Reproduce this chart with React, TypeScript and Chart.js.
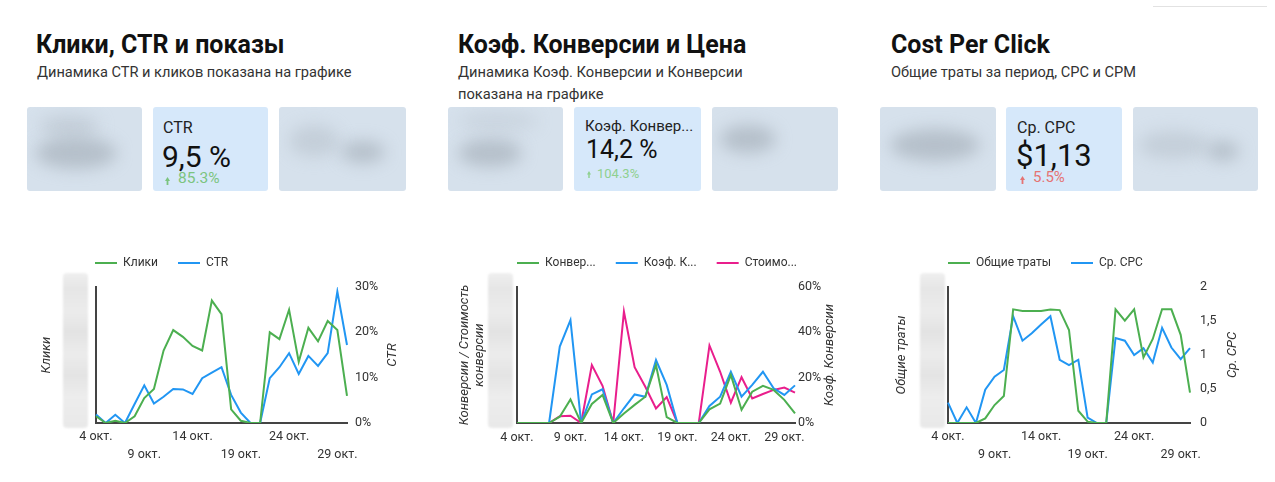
import React, { useEffect, useRef } from 'react';
import { Chart, registerables } from 'chart.js';

Chart.register(...registerables);
Chart.defaults.font.family = 'Roboto, "Noto Sans", sans-serif';
Chart.defaults.color = '#333';

// ---------- data ----------
const dates = ['4 окт.', '5 окт.', '6 окт.', '7 окт.', '8 окт.', '9 окт.', '10 окт.', '11 окт.', '12 окт.', '13 окт.', '14 окт.', '15 окт.', '16 окт.', '17 окт.', '18 окт.', '19 окт.', '20 окт.', '21 окт.', '22 окт.', '23 окт.', '24 окт.', '25 окт.', '26 окт.', '27 окт.', '28 окт.', '29 окт.', '30 окт.'];

// Panel 1: Клики / CTR
const clicks = [3, 0, 1, 0, 3, 11, 15, 32, 41, 38, 34, 32, 54, 48, 6, 1, 0, 0, 40, 37, 50, 27, 42, 36, 45, 41, 12];
const ctr = [1.9, 0, 1.8, 0, 4.2, 8.3, 4.3, 5.8, 7.5, 7.4, 6.4, 9.9, 11.1, 12.3, 6.2, 2.3, 0, 0, 9.9, 12.3, 15.4, 10.8, 14.8, 12.6, 15.4, 29.0, 17.2];

// Panel 2: Конверсии / Коэф. Конверсии / Стоимость конверсии
const conversions = [0, 0, 0, 0, 1.4, 5.2, 0, 4.2, 6.2, 0, 2.1, 4.0, 5.8, 12.8, 1.3, 0, 0, 0, 3.0, 4.3, 10.6, 2.9, 6.9, 8.2, 7.3, 5.1, 2.1];
const convRate = [0, 0, 0, 0, 33.7, 45.4, 0, 12.6, 14.9, 0, 6.5, 12.6, 11.6, 27.8, 16.8, 0, 0, 0, 7.5, 11.6, 22.6, 11.6, 16.8, 22.6, 15.3, 12.4, 16.6];
const costPerConv = [0, 0, 0, 0, 1.5, 1.6, 0, 12.8, 8.2, 0, 24.6, 12.3, 8.0, 3.2, 5.7, 0, 0, 0, 17.1, 11.3, 4.5, 10.1, 5.4, 6.4, 7.3, 7.8, 6.7];

// Panel 3: Общие траты / Ср. CPC
const spend = [0, 0, 0, 0, 1.7, 6.6, 9.9, 41.8, 41.2, 41.2, 41.2, 41.7, 41.5, 34.2, 4.5, 0.5, 0, 0, 41.8, 37.6, 41.8, 24.1, 30.9, 41.8, 41.8, 32.4, 11.2];
const cpc = [0.30, 0, 0.23, 0, 0.49, 0.68, 0.78, 1.57, 1.21, 1.32, 1.45, 1.57, 0.93, 0.85, 0.93, 0.08, 0, 0, 1.25, 1.21, 1.00, 1.10, 0.89, 1.40, 1.11, 0.94, 1.10];

const p1Labels = ['Клики', 'CTR'];
const p2Labels = ['Конвер...', 'Коэф. К...', 'Стоимо...'];
const p3Labels = ['Общие траты', 'Ср. CPC'];

const p1Ticks = [0, 10, 20, 30];
const p2Ticks = [0, 20, 40, 60];
const p3Ticks = [0, 0.5, 1, 1.5, 2];

// ---------- styles ----------
const GREEN = '#4caf50';
const BLUE = '#2196f3';
const PINK = '#e91e8c';

// ---------- plugins ----------
const legendShift = {
  id: 'legendShift',
  afterLayout(chart: any, _args: any, opts: any) {
    const lg = chart.legend;
    if (!lg) return;
    const pad = lg.options.labels.padding;
    lg.left = chart.chartArea.left + (opts.dx || 0) - pad;
    lg.top += opts.dy || 0;
    lg.bottom += opts.dy || 0;
  },
};

const rightTitle = {
  id: 'rightTitle',
  afterDraw(chart: any, _args: any, opts: any) {
    if (!opts || !opts.text) return;
    const { ctx, chartArea } = chart;
    ctx.save();
    ctx.translate(chart.width - opts.offset, (chartArea.top + chartArea.bottom) / 2);
    ctx.rotate(-Math.PI / 2);
    ctx.font = 'italic 13px Roboto, sans-serif';
    ctx.fillStyle = '#333';
    ctx.textAlign = 'center';
    ctx.textBaseline = 'middle';
    ctx.fillText(opts.text, 0, 0);
    ctx.restore();
  },
};

type Series = { label: string; data: number[]; color: string; axis: string };

interface ChartSpec {
  left: number; top: number; width: number; height: number;
  series: Series[];
  leftMax: number; leftTitle: string | string[]; leftWidth: number; leftTitlePad: number;
  rightTicks: number[]; rightFmt: (v: number) => string; rightWidth: number; rightPad: number;
  rightTitle: string; rightTitleOffset: number;
  stagger: boolean; xPad: number; legendDx: number;
}

function LineChart({ spec }: { spec: ChartSpec }) {
  const ref = useRef<HTMLCanvasElement>(null);
  useEffect(() => {
    const s = spec;
    const rt = s.rightTicks;
    const chart = new Chart(ref.current as HTMLCanvasElement, {
      type: 'line',
      data: {
        labels: dates,
        datasets: s.series.map((d) => ({
          label: d.label,
          data: d.data,
          borderColor: d.color,
          backgroundColor: d.color,
          borderWidth: 2,
          pointRadius: 0,
          pointHoverRadius: 0,
          tension: 0,
          fill: false,
          yAxisID: d.axis,
        })),
      },
      options: {
        responsive: false,
        animation: false,
        devicePixelRatio: 1,
        layout: { padding: 0 },
        events: [],
        plugins: {
          legend: {
            position: 'top',
            align: 'start',
            labels: {
              usePointStyle: true,
              pointStyle: 'line',
              pointStyleWidth: 22,
              padding: 20,
              font: { size: 12 },
              color: '#333',
            },
          },
          tooltip: { enabled: false },
          legendShift: { dx: s.legendDx, dy: -8 },
          rightTitle: { text: s.rightTitle, offset: s.rightTitleOffset },
        },
        scales: {
          x: {
            grid: { display: false, drawTicks: false },
            border: { display: true, color: '#444', width: 2 },
            ticks: {
              autoSkip: false,
              maxRotation: 0,
              minRotation: 0,
              padding: s.xPad,
              font: { size: 12.5, lineHeight: 1.45 },
              color: '#333',
              callback: (_v: any, i: number) => {
                if (i % 5 !== 0) return '';
                if (s.stagger && i % 10 === 5) return ['', dates[i]];
                return dates[i];
              },
            },
            afterFit: (sc: any) => { sc.height = 47; },
          },
          y: {
            position: 'left',
            min: 0,
            max: s.leftMax,
            grid: { display: false, drawTicks: false },
            border: { display: true, color: '#444', width: 2 },
            ticks: { display: false },
            title: {
              display: true,
              text: s.leftTitle,
              color: '#333',
              font: { size: 13, style: 'italic', lineHeight: 1.15 },
              padding: { top: s.leftTitlePad, bottom: 0 },
            },
            afterFit: (sc: any) => { sc.width = s.leftWidth; },
          },
          y1: {
            position: 'right',
            min: rt[0],
            max: rt[rt.length - 1],
            grid: { display: false, drawTicks: false },
            border: { display: false },
            afterBuildTicks: (sc: any) => { sc.ticks = rt.map((v) => ({ value: v })); },
            ticks: {
              padding: s.rightPad,
              font: { size: 12.5 },
              color: '#333',
              callback: (v: any) => s.rightFmt(Number(v)),
            },
            afterFit: (sc: any) => { sc.width = s.rightWidth; },
          },
        },
      },
      plugins: [legendShift, rightTitle],
    } as any);
    return () => chart.destroy();
  }, [spec]);
  return (
    <canvas
      ref={ref}
      width={spec.width}
      height={spec.height}
      style={{ position: 'absolute', left: spec.left, top: spec.top, width: spec.width, height: spec.height }}
    />
  );
}

const pct = (v: number) => `${v}%`;
const dec = (v: number) => String(v).replace('.', ',');

const spec1: ChartSpec = {
  left: 30, top: 245, width: 380, height: 225,
  series: [
    { label: p1Labels[0], data: clicks, color: GREEN, axis: 'y' },
    { label: p1Labels[1], data: ctr, color: BLUE, axis: 'y1' },
  ],
  leftMax: 60, leftTitle: 'Клики', leftWidth: 66, leftTitlePad: 9.5,
  rightTicks: p1Ticks, rightFmt: pct, rightWidth: 63, rightPad: 8,
  rightTitle: 'CTR', rightTitleOffset: 17,
  stagger: true, xPad: 5, legendDx: -1,
};

const spec2: ChartSpec = {
  left: 450, top: 245, width: 395, height: 225,
  series: [
    { label: p2Labels[0], data: conversions, color: GREEN, axis: 'y' },
    { label: p2Labels[1], data: convRate, color: BLUE, axis: 'y1' },
    { label: p2Labels[2], data: costPerConv, color: PINK, axis: 'y' },
  ],
  leftMax: 30, leftTitle: ['Конверсии / Стоимость', 'конверсии'], leftWidth: 67, leftTitlePad: 7.5,
  rightTicks: p2Ticks, rightFmt: pct, rightWidth: 50, rightPad: 3,
  rightTitle: 'Коэф. Конверсии', rightTitleOffset: 15,
  stagger: false, xPad: 6, legendDx: 0,
};

const spec3: ChartSpec = {
  left: 880, top: 245, width: 390, height: 225,
  series: [
    { label: p3Labels[0], data: spend, color: GREEN, axis: 'y' },
    { label: p3Labels[1], data: cpc, color: BLUE, axis: 'y1' },
  ],
  leftMax: 50, leftTitle: 'Общие траты', leftWidth: 68, leftTitlePad: 14.5,
  rightTicks: p3Ticks, rightFmt: dec, rightWidth: 80, rightPad: 10,
  rightTitle: 'Ср. CPC', rightTitleOffset: 37,
  stagger: true, xPad: 5, legendDx: 0,
};

// ---------- html helpers ----------
function T({ x, base, size, weight = 400, color = '#222', children }: any) {
  return (
    <div
      style={{
        position: 'absolute', left: x, top: base - 0.8415 * size, fontSize: size,
        lineHeight: `${size}px`, fontWeight: weight, color, whiteSpace: 'nowrap',
        fontFamily: 'Roboto, sans-serif',
      }}
    >
      {children}
    </div>
  );
}

function Arrow({ x, y, w, h, color }: any) {
  const hh = h * 0.5;
  return (
    <svg style={{ position: 'absolute', left: x, top: y }} width={w} height={h} viewBox={`0 0 ${w} ${h}`}>
      <polygon
        points={`0,${hh} ${w / 2},0 ${w},${hh} ${w * 0.68},${hh} ${w * 0.68},${h} ${w * 0.32},${h} ${w * 0.32},${hh}`}
        fill={color}
      />
    </svg>
  );
}

function Card({ x, w, bg, blobs = [] }: any) {
  return (
    <div style={{ position: 'absolute', left: x, top: 107, width: w, height: 84, background: bg, borderRadius: 3, overflow: 'hidden' }}>
      {blobs.map((b: any, i: number) => (
        <div
          key={i}
          style={{
            position: 'absolute', left: b[0], top: b[1], width: b[2], height: b[3],
            background: b[4], borderRadius: '50%', filter: 'blur(8px)',
          }}
        />
      ))}
    </div>
  );
}

function YBlur({ x }: any) {
  return (
    <div
      style={{
        position: 'absolute', left: x, top: 273, width: 25, height: 155, borderRadius: 4,
        background: 'linear-gradient(to bottom, #efefef 0%, #e6e6e6 10%, #ececec 25%, #e3e3e3 38%, #ececec 52%, #e4e4e4 66%, #ededed 80%, #e9e9e9 100%)',
        filter: 'blur(1px)',
      }}
    />
  );
}

const BLUR_BG = '#d6e1ec';
const ACTIVE_BG = '#d6e8fa';
const DARK = 'rgba(160,170,180,0.6)';
const MID = 'rgba(180,190,200,0.5)';

export default function App() {
  return (
    <div style={{ position: 'fixed', left: 0, top: 0, width: 1275, height: 482, background: '#fff', overflow: 'hidden', fontFamily: 'Roboto, sans-serif' }}>
      <div style={{ position: 'absolute', left: 1153, top: 6, width: 114, height: 1, background: '#e2e2e2' }} />

      {/* Panel 1 */}
      <T x={36} base={53.5} size={25} weight={700} color="#111">Клики, CTR и показы</T>
      <T x={37} base={77} size={14.6} color="#333">Динамика CTR и кликов показана на графике</T>
      <Card x={27} w={115} bg={BLUR_BG} blobs={[[12, 8, 60, 22, MID], [8, 30, 82, 32, DARK]]} />
      <Card x={153} w={115} bg={ACTIVE_BG} />
      <Card x={279} w={127} bg={BLUR_BG} blobs={[[10, 18, 50, 32, MID], [62, 34, 44, 22, DARK]]} />
      <T x={163} base={133} size={16} color="#222">CTR</T>
      <T x={162} base={167} size={30} color="#111">9,5 %</T>
      <Arrow x={165} y={177} w={5} h={8} color="#7cc47f" />
      <T x={178} base={184} size={15.5} color="#7cc47f">85.3%</T>
      <YBlur x={63} />
      <LineChart spec={spec1} />

      {/* Panel 2 */}
      <T x={458} base={53.5} size={25} weight={700} color="#111">Коэф. Конверсии и Цена</T>
      <T x={458} base={77} size={14.7} color="#333">Динамика Коэф. Конверсии и Конверсии</T>
      <T x={458} base={99.5} size={14.7} color="#333">показана на графике</T>
      <Card x={448} w={115} bg={BLUR_BG} blobs={[[10, 4, 80, 20, 'rgba(185,195,205,0.4)'], [10, 32, 64, 28, DARK]]} />
      <Card x={574} w={127} bg={ACTIVE_BG} />
      <Card x={712} w={126} bg={BLUR_BG} blobs={[[8, 18, 56, 28, DARK]]} />
      <T x={585} base={132} size={15} color="#222">Коэф. Конвер...</T>
      <T x={586} base={158} size={25} color="#111">14,2 %</T>
      <Arrow x={587} y={171} w={4} h={7} color="#8fd08f" />
      <T x={597} base={178} size={13} color="#8fd08f">104.3%</T>
      <YBlur x={488} />
      <LineChart spec={spec2} />

      {/* Panel 3 */}
      <T x={891} base={53.5} size={25} weight={700} color="#111">Cost Per Click</T>
      <T x={891} base={77} size={14.6} color="#333">Общие траты за период, CPC и CPM</T>
      <Card x={880} w={116} bg={BLUR_BG} blobs={[[10, 22, 90, 32, DARK]]} />
      <Card x={1006} w={116} bg={ACTIVE_BG} />
      <Card x={1133} w={125} bg={BLUR_BG} blobs={[[6, 24, 70, 28, MID], [74, 34, 32, 20, DARK]]} />
      <T x={1017} base={133} size={16} color="#222">Ср. CPC</T>
      <T x={1016} base={166} size={31} color="#111">$1,13</T>
      <Arrow x={1020} y={176} w={5} h={8} color="#e57373" />
      <T x={1033} base={183} size={15} color="#e57373">5.5%</T>
      <YBlur x={920} />
      <LineChart spec={spec3} />
    </div>
  );
}
